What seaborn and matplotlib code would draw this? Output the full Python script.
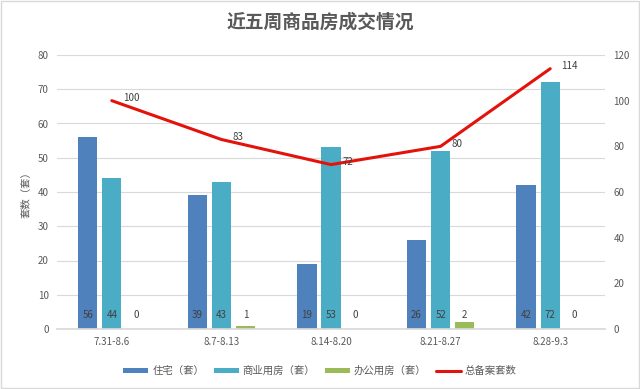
import matplotlib
matplotlib.use("Agg")
import matplotlib.pyplot as plt
import seaborn as sns
import pandas as pd
import numpy as np
from matplotlib.patches import Patch
from matplotlib.lines import Line2D

weeks = ["7.31-8.6", "8.7-8.13", "8.14-8.20", "8.21-8.27", "8.28-9.3"]
residential = [56, 39, 19, 26, 42]
commercial = [44, 43, 53, 52, 72]
office = [0, 1, 0, 2, 0]
total = [100, 83, 72, 80, 114]
series_names = ["住宅（套）", "商业用房（套）", "办公用房（套）"]
line_name = "总备案套数"
title = "近五周商品房成交情况"
ylabel = "套数（套）"

colors = ["#4F81BD", "#4BACC6", "#9BBB59"]
line_color = "#E3120B"
text_color = "#595959"

sns.set_theme(style="white")
plt.rcParams['font.family'] = ['Noto Sans CJK SC', 'DejaVu Sans']

df = pd.DataFrame({
    "week": weeks * 3,
    "series": sum([[s] * len(weeks) for s in series_names], []),
    "value": residential + commercial + office,
})

fig = plt.figure(figsize=(6.4, 3.89), dpi=100)
ax = fig.add_axes([57 / 640, 1 - 329 / 389, 548 / 640, 274 / 389])

sns.barplot(data=df, x="week", y="value", hue="series", hue_order=series_names,
            order=weeks, palette=colors, width=0.66, gap=0.2, ax=ax,
            legend=False, saturation=1, errorbar=None, linewidth=0)

ax.set_xlim(-0.5, len(weeks) - 0.5)
ax.set_ylim(0, 80)
ax.set_yticks(range(0, 81, 10))
ax.yaxis.grid(True, color="#D9D9D9", linewidth=0.8)
ax.set_axisbelow(True)
for s in ["top", "right", "left"]:
    ax.spines[s].set_visible(False)
ax.spines["bottom"].set_color("#D9D9D9")
ax.tick_params(axis="both", length=0, labelsize=7, colors=text_color, pad=6)
ax.set_xlabel("")
ax.set_ylabel(ylabel, fontsize=7.5, color=text_color, labelpad=4)

# bar value labels
for container in ax.containers:
    for bar in container:
        h = bar.get_height()
        ax.text(bar.get_x() + bar.get_width() / 2, 4, f"{int(h)}",
                ha="center", va="center", fontsize=7, color="#404040")

ax2 = ax.twinx()
sns.lineplot(x=np.arange(len(weeks)), y=total, ax=ax2, color=line_color,
             linewidth=2.2)
ax2.set_ylim(0, 120)
ax2.set_yticks(range(0, 121, 20))
ax2.set_xlim(-0.5, len(weeks) - 0.5)
for s in ["top", "right", "left", "bottom"]:
    ax2.spines[s].set_visible(False)
ax2.tick_params(axis="y", length=0, labelsize=7, colors=text_color, pad=6)
for i, v in enumerate(total):
    ax2.annotate(f"{v}", (i, v), xytext=(8, 2), textcoords="offset points",
                 ha="left", va="center", fontsize=7, color="#404040")

fig.text(0.5, 1 - 22 / 389, title, ha="center", va="center", fontsize=13.5,
         color=text_color, fontweight="bold")

handles = [Patch(facecolor=c, edgecolor="none", label=n) for c, n in zip(colors, series_names)]
handles.append(Line2D([0], [0], color=line_color, linewidth=2.2, label=line_name))
fig.legend(handles=handles, loc="center", bbox_to_anchor=(0.5, 1 - 371 / 389),
           ncol=4, frameon=False, fontsize=7.5, labelcolor=text_color,
           handlelength=2.4, handleheight=0.45, columnspacing=0.9, handletextpad=0.4)

border = plt.Rectangle((0.002, 0.002), 0.996, 0.996, transform=fig.transFigure,
                       fill=False, edgecolor="#D9D9D9", linewidth=1)
fig.patches.append(border)

fig.savefig("out.png", dpi=100)
